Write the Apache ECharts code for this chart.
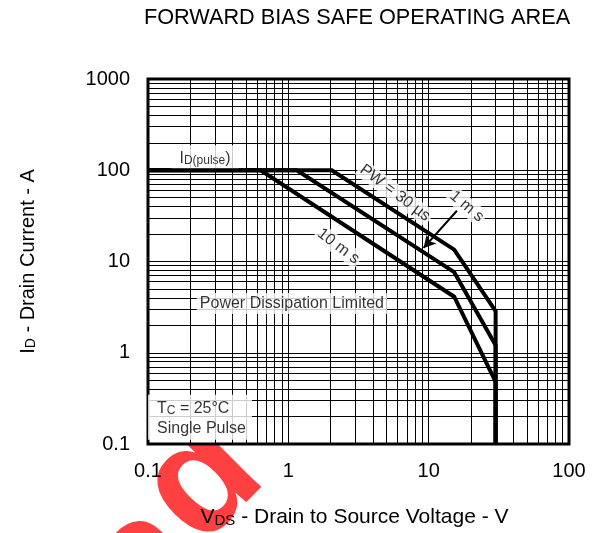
<!DOCTYPE html>
<html><head><meta charset="utf-8">
<script src="https://cdn.jsdelivr.net/npm/echarts@6/dist/echarts.min.js"></script>
<style>html,body{margin:0;padding:0;background:#fff}#c{width:598px;height:533px}</style>
</head><body><div id="c"></div>
<script>
// ---- data ----
const xTickLabels = ['0.1', '1', '10', '100'];
const yTickLabels = ['0.1', '1', '10', '100', '1000'];
const xMinor = [0.2,0.3,0.4,0.5,0.6,0.7,0.8,0.9, 2,3,4,5,6,7,8,9, 20,30,40,50,60,70,80,90];
const yMinor = [0.2,0.3,0.4,0.5,0.6,0.7,0.8,0.9, 2,3,4,5,6,7,8,9, 20,30,40,50,60,70,80,90, 200,300,400,500,600,700,800,900];
const pw30usV = [0.1, 2.04, 15.2, 30, 30];
const pw30usI = [100, 100, 13.5, 2.86, 0.1];
const pw1msV  = [0.1, 1.15, 15.2, 30, 30];
const pw1msI  = [100, 100, 7.64, 1.21, 0.1];
const pw10msV = [0.1, 0.635, 15.2, 30, 30];
const pw10msI = [100, 100, 4.11, 0.48, 0.1];
const arrowV = [15.9, 9.2];
const arrowI = [36, 14.1];

const FONT = 'Liberation Sans, Arial, sans-serif';
const zip = (a, b) => a.map((v, i) => [v, b[i]]);
const tickIdx = v => Math.round(Math.log10(v));

const chart = echarts.init(document.getElementById('c'), null, {renderer: 'canvas'});
const curveStyle = {type: 'line', symbol: 'none', silent: true, z: 5,
  lineStyle: {color: '#000', width: 4, join: 'miter'}};
const labelSeries = (coord, label) => ({
  type: 'scatter', silent: true, symbolSize: 0, z: 8,
  data: [coord],
  label: Object.assign({show: true, color: '#000', fontFamily: FONT}, label)
});
const WM = 'rgba(255,30,30,0.85)';

chart.setOption({
  animation: false,
  backgroundColor: '#fff',
  textStyle: {fontFamily: FONT},
  grid: {left: 148, top: 79, width: 421, height: 366, show: true, z: 2,
    borderColor: '#000', borderWidth: 3, backgroundColor: '#fff'},
  xAxis: {
    type: 'log', logBase: 10, min: 0.1, max: 100, z: 3,
    axisLine: {show: false}, axisTick: {show: false},
    splitLine: {show: true, lineStyle: {color: '#000', width: 1}},
    axisLabel: {fontSize: 20, color: '#000', margin: 17, fontFamily: FONT,
      formatter: v => xTickLabels[tickIdx(v) + 1]},
    name: '{a|V}{b|DS}{a| - Drain to Source Voltage - V}',
    nameLocation: 'middle', nameGap: 62,
    nameTextStyle: {padding: [0, 8, 0, 0], rich: {
      a: {fontSize: 21, color: '#000', fontFamily: FONT, verticalAlign: 'bottom', lineHeight: 22},
      b: {fontSize: 15, color: '#000', fontFamily: FONT, verticalAlign: 'bottom', lineHeight: 18}}}
  },
  yAxis: {
    type: 'log', logBase: 10, min: 0.1, max: 1000, z: 3,
    axisLine: {show: false}, axisTick: {show: false},
    splitLine: {show: true, lineStyle: {color: '#000', width: 1}},
    axisLabel: {fontSize: 20, color: '#000', margin: 18, fontFamily: FONT,
      formatter: v => yTickLabels[tickIdx(v) + 1]},
    name: '{a|I}{b|D}{a| - Drain Current - A}',
    nameLocation: 'middle', nameRotate: 90, nameGap: 110,
    nameTextStyle: {rich: {
      a: {fontSize: 20, color: '#000', fontFamily: FONT, verticalAlign: 'bottom', lineHeight: 22},
      b: {fontSize: 14, color: '#000', fontFamily: FONT, verticalAlign: 'bottom', lineHeight: 18}}}
  },
  series: [
    { type: 'line', data: [], silent: true, z: 3,
      markLine: { silent: true, symbol: ['none', 'none'], animation: false,
        label: {show: false}, emphasis: {disabled: true},
        lineStyle: {color: '#000', width: 1, type: 'solid'},
        data: xMinor.map(v => ({xAxis: v})).concat(yMinor.map(v => ({yAxis: v})))
      }
    },
    Object.assign({name: '30us', data: zip(pw30usV, pw30usI)}, curveStyle),
    Object.assign({name: '1ms', data: zip(pw1msV, pw1msI)}, curveStyle),
    Object.assign({name: '10ms', data: zip(pw10msV, pw10msI)}, curveStyle),
    { type: 'line', data: [], silent: true, z: 6,
      markLine: { silent: true, symbol: ['none', 'arrow'], symbolSize: [10, 12], animation: false,
        label: {show: false}, emphasis: {disabled: true},
        lineStyle: {color: '#000', width: 2, type: 'solid'},
        data: [[{coord: [arrowV[0], arrowI[0]]}, {coord: [arrowV[1], arrowI[1]]}]]
      }
    },
    labelSeries([0.255, 140.6], {position: 'inside', backgroundColor: '#fff', padding: [3, 8, 2, 8],
      formatter: '{a|I}{b|D(pulse}{a|)}',
      rich: {a: {fontSize: 16, fontFamily: FONT, color: '#000', verticalAlign: 'bottom', lineHeight: 18},
             b: {fontSize: 12, fontFamily: FONT, color: '#000', verticalAlign: 'bottom', lineHeight: 15}}}),
    labelSeries([5.76, 56.3], {position: 'inside', rotate: -37, backgroundColor: '#fff', padding: [1, 2],
      fontSize: 16, formatter: 'PW = 30 µs'}),
    labelSeries([18.7, 40.2], {position: 'inside', rotate: -40, backgroundColor: '#fff', padding: [1, 2],
      fontSize: 16, formatter: '1 m s'}),
    labelSeries([2.27, 14.7], {position: 'inside', rotate: -37, backgroundColor: '#fff', padding: [1, 2],
      fontSize: 16, formatter: '10 m s'}),
    labelSeries([1.06, 3.47], {position: 'inside', backgroundColor: '#fff', padding: [3, 3, 2, 3],
      fontSize: 16, formatter: 'Power Dissipation Limited'}),
    labelSeries([0.1, 0.197], {position: 'right', distance: 0, align: 'left', backgroundColor: '#fff',
      padding: [2, 6, 3, 9],
      formatter: '{a|T}{b|C}{a| = 25°C}\n{a|Single Pulse}',
      rich: {a: {fontSize: 16, fontFamily: FONT, color: '#000', verticalAlign: 'bottom', lineHeight: 20},
             b: {fontSize: 12, fontFamily: FONT, color: '#000', verticalAlign: 'bottom', lineHeight: 16}}})
  ],
  graphic: [
    {type: 'text', x: 357, y: 18, z: 10, silent: true,
      style: {text: 'FORWARD BIAS SAFE OPERATING AREA', font: '21.7px ' + FONT, fill: '#000',
        align: 'center', verticalAlign: 'middle'}},
    {type: 'group', z: -5, silent: true, children: [
      {type: 'text', x: 225, y: 574, rotation: 0.785, silent: true,
        style: {text: 'd', font: 'bold 160px ' + FONT, fill: WM, align: 'left', verticalAlign: 'bottom'}},
      {type: 'text', x: 170, y: 651, rotation: 0.785, silent: true,
        style: {text: 'a', font: 'bold 160px ' + FONT, fill: WM, align: 'left', verticalAlign: 'bottom'}}
    ]}
  ]
});
</script></body></html>
